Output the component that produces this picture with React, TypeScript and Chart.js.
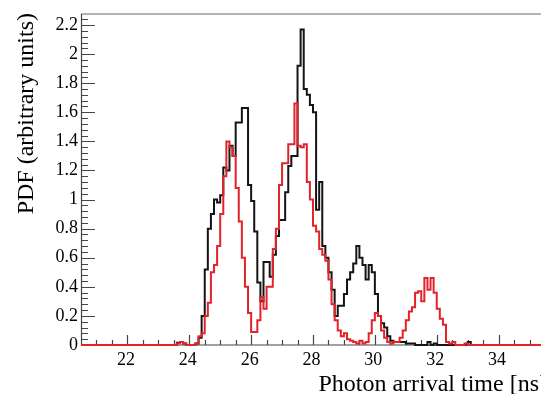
import { useEffect, useRef } from "react";
import { Chart, registerables } from "chart.js";

Chart.register(...registerables);

// Histogram binning (bin left edges start at binStart, width binWidth)
const binStart = 23.5;
const binWidth = 0.1;
const xMin = 20.5;
const xMax = 35.5;
const yMin = 0;
const yMax = 2.276;

// Black histogram, bins 23.5 .. 33.4 (left edges)
const blackValues = [
  0, 0, 0.015, 0.02, 0.01, 0, 0, 0, 0.01, 0.05,
  0.2, 0.52, 0.8, 0.9, 1.0, 0.98, 1.03, 1.22, 1.2, 1.37,
  1.3, 1.53, 1.53, 1.63, 1.63, 1.1, 0.99, 0.78, 0.43, 0.3,
  0.57, 0.57, 0.47, 0.62, 0.75, 0.86, 0.86, 1.05, 1.23, 1.3,
  1.3, 1.92, 2.17, 1.76, 1.72, 1.65, 1.6, 0.93, 1.12, 0.68,
  0.6, 0.5, 0.38, 0.2, 0.27, 0.27, 0.35, 0.45, 0.5, 0.56,
  0.68, 0.6, 0.55, 0.45, 0.55, 0.5, 0.35, 0.2, 0.15, 0.12,
  0.06, 0.03, 0.02, 0.02, 0.02, 0.02, 0.01, 0.01, 0.01, 0,
  0, 0, 0, 0.02, 0, 0.01, 0, 0, 0, 0,
  0, 0, 0, 0, 0, 0, 0.02, 0, 0, 0,
];

// Red histogram, bins 23.5 .. 33.4 (left edges)
const redValues = [
  0, 0, 0.01, 0.02, 0.01, 0, 0, 0, 0.01, 0.06,
  0.08, 0.2, 0.29, 0.5, 0.55, 0.68, 0.9, 1.16, 1.4, 1.36,
  1.3, 1.08, 0.85, 0.6, 0.4, 0.22, 0.09, 0.09, 0.17, 0.33,
  0.25, 0.4, 0.4, 0.66, 0.8, 1.1, 1.25, 1.25, 1.38, 1.38,
  1.66, 1.37, 1.36, 1.38, 1.12, 1.0, 0.82, 0.78, 0.66, 0.62,
  0.58, 0.45, 0.28, 0.17, 0.1, 0.06, 0.08, 0.04, 0.03, 0.02,
  0.01, 0.03, 0.01, 0.02, 0.08, 0.17, 0.22, 0.2, 0.1, 0.05,
  0.02, 0.01, 0.02, 0.02, 0.05, 0.1, 0.17, 0.23, 0.26, 0.36,
  0.37, 0.3, 0.46, 0.38, 0.46, 0.36, 0.25, 0.18, 0.14, 0.02,
  0.01, 0.02, 0, 0, 0, 0.01, 0, 0, 0, 0,
];

const xTickValues = [22, 24, 26, 28, 30, 32, 34];
const xTickLabels = ["22", "24", "26", "28", "30", "32", "34"];
const yTickValues = [0, 0.2, 0.4, 0.6, 0.8, 1, 1.2, 1.4, 1.6, 1.8, 2, 2.2];
const yTickLabels = ["0", "0.2", "0.4", "0.6", "0.8", "1", "1.2", "1.4", "1.6", "1.8", "2", "2.2"];
const xMinorStep = 0.5;
const yMinorStep = 0.04;

const xTitle = "Photon arrival time [ns]";
const yTitle = "PDF (arbitrary units)";

const CANVAS_W = 560;
const CANVAS_H = 394;
const AREA = { left: 81, top: 14, right: 545, bottom: 345 };
const FONT = '"Liberation Serif", "DejaVu Serif", serif';

function toPoints(values: number[]) {
  const pts: { x: number; y: number }[] = [{ x: xMin, y: 0 }];
  values.forEach((v, i) => {
    pts.push({ x: +(binStart + i * binWidth).toFixed(4), y: v });
  });
  pts.push({ x: +(binStart + values.length * binWidth).toFixed(4), y: 0 });
  pts.push({ x: xMax, y: 0 });
  return pts;
}

const rootAxes = {
  id: "rootAxes",
  beforeDatasetsDraw(chart: any) {
    const { ctx, chartArea: a, scales } = chart;
    const xs = scales.x;
    const ys = scales.y;
    ctx.save();
    // top frame line
    ctx.strokeStyle = "#9a9a9a";
    ctx.lineWidth = 1.5;
    ctx.beginPath();
    ctx.moveTo(a.left, a.top);
    ctx.lineTo(a.right + 20, a.top);
    ctx.stroke();
    // axis lines
    ctx.strokeStyle = "#444";
    ctx.lineWidth = 1.2;
    ctx.beginPath();
    ctx.moveTo(a.left + 0.5, a.top);
    ctx.lineTo(a.left + 0.5, a.bottom);
    ctx.moveTo(a.left, a.bottom);
    ctx.lineTo(a.right + 20, a.bottom);
    ctx.stroke();
    // y ticks (inward)
    ctx.beginPath();
    const nY = Math.floor((yMax - yMin) / yMinorStep + 1e-6);
    for (let i = 0; i <= nY; i++) {
      const v = yMin + i * yMinorStep;
      const major = Math.abs(v / 0.2 - Math.round(v / 0.2)) < 1e-6;
      const py = Math.round(ys.getPixelForValue(v)) + 0.5;
      ctx.moveTo(a.left, py);
      ctx.lineTo(a.left + (major ? 14 : 7), py);
    }
    // x ticks (inward)
    const nX = Math.floor((xMax - 21) / xMinorStep + 1e-6);
    for (let i = 0; i <= nX; i++) {
      const v = 21 + i * xMinorStep;
      const major = Math.abs(v / 2 - Math.round(v / 2)) < 1e-6;
      const px = Math.round(xs.getPixelForValue(v)) + 0.5;
      ctx.moveTo(px, a.bottom);
      ctx.lineTo(px, a.bottom - (major ? 10 : 5));
    }
    ctx.stroke();
    ctx.restore();
  },
  afterDraw(chart: any) {
    const { ctx, chartArea: a, scales } = chart;
    const xs = scales.x;
    const ys = scales.y;
    ctx.save();
    ctx.fillStyle = "#000";
    ctx.font = `18px ${FONT}`;
    ctx.textAlign = "right";
    ctx.textBaseline = "middle";
    yTickValues.forEach((v, i) => {
      ctx.fillText(yTickLabels[i], a.left - 3, ys.getPixelForValue(v));
    });
    ctx.textAlign = "center";
    ctx.textBaseline = "alphabetic";
    xTickValues.forEach((v, i) => {
      ctx.fillText(xTickLabels[i], xs.getPixelForValue(v) - 1.5, a.bottom + 20);
    });
    // axis titles
    ctx.font = `24px ${FONT}`;
    ctx.textAlign = "right";
    ctx.textBaseline = "alphabetic";
    ctx.fillText(xTitle, a.right + 2, 391);
    ctx.translate(33, a.top - 1);
    ctx.rotate(-Math.PI / 2);
    ctx.fillText(yTitle, 0, 0);
    ctx.restore();
  },
};

export default function App() {
  const canvasRef = useRef<HTMLCanvasElement | null>(null);

  useEffect(() => {
    const canvas = canvasRef.current;
    if (!canvas) return;
    const chart = new Chart(canvas, {
      type: "line",
      data: {
        datasets: [
          {
            label: "red",
            data: toPoints(redValues),
            borderColor: "#e3232a",
            borderWidth: 2,
            pointRadius: 0,
            stepped: "after",
            fill: false,
            clip: 6,
          } as any,
          {
            label: "black",
            data: toPoints(blackValues),
            borderColor: "#141414",
            borderWidth: 2,
            pointRadius: 0,
            stepped: "after",
            fill: false,
            clip: 6,
          } as any,
        ],
      },
      options: {
        responsive: false,
        devicePixelRatio: 1,
        animation: false,
        layout: {
          padding: {
            left: AREA.left,
            top: AREA.top,
            right: CANVAS_W - AREA.right,
            bottom: CANVAS_H - AREA.bottom,
          },
        },
        plugins: {
          legend: { display: false },
          tooltip: { enabled: false },
        },
        scales: {
          x: { type: "linear", min: xMin, max: xMax, display: false },
          y: { type: "linear", min: yMin, max: yMax, display: false },
        },
      },
      plugins: [rootAxes],
    });
    return () => chart.destroy();
  }, []);

  return (
    <div
      style={{
        position: "fixed",
        left: 0,
        top: 0,
        width: 541,
        height: 394,
        overflow: "hidden",
        background: "#fff",
      }}
    >
      <canvas
        ref={canvasRef}
        width={CANVAS_W}
        height={CANVAS_H}
        style={{ position: "absolute", left: 0, top: 0, width: CANVAS_W, height: CANVAS_H }}
      />
    </div>
  );
}
